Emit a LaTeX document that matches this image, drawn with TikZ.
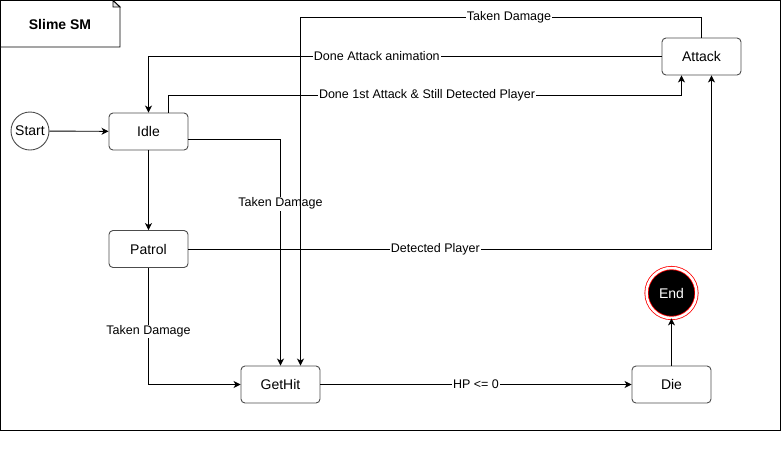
\documentclass[tikz,border=0pt]{standalone}
\usepackage{fontspec}
\setmainfont{Liberation Sans}
\usetikzlibrary{arrows.meta,positioning,calc}

\begin{document}
\begin{tikzpicture}[x=1pt,y=-1pt,
    state/.style={draw=black!70,line width=0.9pt,rounded corners=4pt,
        minimum width=79pt,minimum height=37pt,inner sep=0pt,
        font=\fontsize{14}{16}\selectfont},
    lbl/.style={fill=white,inner sep=1pt,font=\fontsize{12.5}{14}\selectfont},
    trans/.style={-{Stealth[length=7pt,width=7pt,inset=2pt]},line width=0.9pt,black}]
        \useasboundingbox (0,0) rectangle (781,451);

        % Frame and title
        \draw[line width=1pt] (0.5,0.5) rectangle (780,430);
        \draw[line width=0.9pt,fill=white] (0.5,0.5) -- (113,0.5) -- (120,7) -- (120,47) -- (0.5,47) -- cycle;
        \draw[line width=0.9pt,fill=black!10] (113,0.5) -- (113,7) -- (120,7) -- cycle;
        \node[font=\fontsize{14}{16}\selectfont\bfseries] (title) at (60,24) {Slime SM};

        % States
        \node[draw=black!70,line width=0.9pt,circle,minimum size=38pt,inner sep=0pt,
            font=\fontsize{14}{16}\selectfont] (start) at (30,131) {Start};
        \node[state] (idle) at (148.5,131.5) {Idle};
        \node[state] (patrol) at (148.5,249) {Patrol};
        \node[state] (gethit) at (280.5,384.5) {GetHit};
        \node[state] (die) at (671.5,384.5) {Die};
        \node[state] (attack) at (701.5,56.5) {Attack};
        \node[circle,draw=red,line width=0.8pt,double=white,double distance=2.5pt,
            fill=black,text=white,minimum size=50pt,inner sep=0pt,
            font=\fontsize{14}{16}\selectfont] (end) at (671.5,293) {End};

        % Transitions
        \draw[trans] (start) -- (idle);
        \draw[trans] (idle) -- (patrol);
        \draw[trans] ([yshift=-8pt]idle.east) -| node[lbl,pos=0.642] {Taken Damage} (gethit.north);
        \draw[trans] (attack.north) |- node[lbl,pos=0.74] {Taken Damage}
            ([xshift=20pt]gethit.north |- 0,17) -- ([xshift=20pt]gethit.north);
        \draw[trans] (attack.west) -| node[lbl,pos=0.2775] {Done Attack animation} (idle.north);
        \draw[trans] ([xshift=20pt]idle.north) |- node[lbl,pos=0.752] {Done 1st Attack \& Still Detected Player}
            ([xshift=-20pt]attack.south |- 0,95) -- ([xshift=-20pt]attack.south);
        \draw[trans] (patrol.east) -| node[lbl,pos=0.236] {Detected Player} ([xshift=10pt]attack.south);
        \draw[trans] (patrol.south) |- node[lbl,pos=0.273] {Taken Damage} (gethit.west);
        \draw[trans] (gethit) -- node[lbl] {HP <= 0} (die);
        \draw[trans] (die) -- (end);

    \end{tikzpicture}
\end{document}
